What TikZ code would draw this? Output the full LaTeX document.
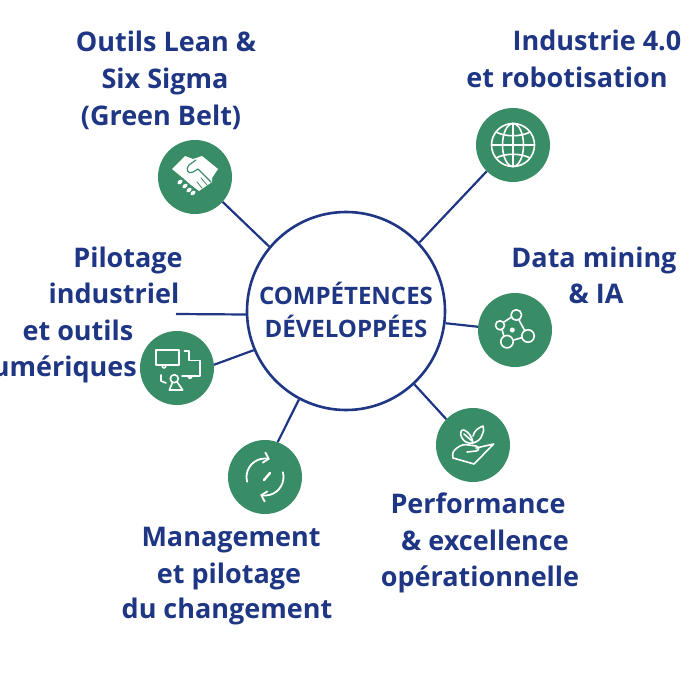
\documentclass[tikz,border=0pt]{standalone}
\usepackage{fontspec}
\usepackage{xcolor}
\usetikzlibrary{arrows.meta}
\newfontfamily\labelfont{Open Sans}
\definecolor{navy}{HTML}{1E3683}
\definecolor{leaf}{HTML}{388D66}
\tikzset{
  hubnode/.style={circle, draw=navy, line width=2.6pt, fill=white, minimum size=198pt, inner sep=0pt},
  iconnode/.style={circle, fill=leaf, minimum size=74pt, inner sep=0pt},
  link/.style={draw=navy, line width=2.2pt},
  lbl/.style={anchor=base, inner sep=0pt, text=navy, font=\labelfont\bfseries\fontsize{27}{32}\selectfont},
  hublbl/.style={lbl, font=\labelfont\bfseries\fontsize{24}{28}\selectfont},
  glyph/.style={draw=white, line width=1.6pt, line cap=round, line join=round},
  cut/.style={draw=leaf, line width=1.2pt, line cap=round, line join=round}
}
\begin{document}
\begin{tikzpicture}[x=1pt, y=-1pt]
  \useasboundingbox (0,0) rectangle (690,690);
  \fill[white] (0,0) rectangle (690,690);
  % circles
  \node[hubnode](hub) at (346,311){};
  \node[iconnode](lean) at (195,177){};
  \node[iconnode](robot) at (513,145){};
  \node[iconnode](data) at (515,330){};
  \node[iconnode](perf) at (473,445){};
  \node[iconnode](change) at (265,477){};
  \node[iconnode](pilot) at (177,368){};
  \coordinate(pilotend) at (176,314);
  % links
  \draw[link] (hub.140) -- (lean.-42);
  \draw[link] (hub.43) -- (robot.-135);
  \draw[link] (hub.-7) -- (data.175);
  \draw[link] (hub.-47) -- (perf.136);
  \draw[link] (hub.-118) -- (change.70);
  \draw[link] (hub.-157) -- (pilot.5);
  \draw[link] (hub.182) -- (pilotend);
  % texts
  \node[hublbl](hubA) at (346,304){COMPÉTENCES};
  \node[hublbl](hubB) at (346,337){DÉVELOPPÉES};
  \node[lbl](leanA) at (166,52){Outils Lean \&};
  \node[lbl](leanB) at (165,89){Six Sigma};
  \node[lbl](leanC) at (161,125){(Green Belt)};
  \node[lbl](robotA) at (597,51){Industrie 4.0};
  \node[lbl](robotB) at (567,88){et robotisation};
  \node[lbl](dataA) at (594,267){Data mining};
  \node[lbl](dataB) at (596,303){\& IA};
  \node[lbl](pilotA) at (128,267){Pilotage};
  \node[lbl](pilotB) at (114,303){industriel};
  \node[lbl](pilotC) at (78,340){et outils};
  \node[lbl, anchor=base east](pilotD) at (137,376){numériques};
  \node[lbl](changeA) at (231,546){Management};
  \node[lbl](changeB) at (229,583){et pilotage};
  \node[lbl](changeC) at (227,618){du changement};
  \node[lbl](perfA) at (478,513){Performance};
  \node[lbl](perfB) at (485,550){\& excellence};
  \node[lbl](perfC) at (480,586){opérationnelle};
  % handshake
  \begin{scope}[shift={(lean.center)}]
    \fill[white] (-23,-8) -- (-10,-21) -- (-2,-18) -- (7,-21) -- (23,-8) -- (17,1) -- (17,5) -- (4,14) -- (-4,8) -- (-12,1) -- cycle;
    \draw[cut] (1,-17) -- (-6,-12) .. controls (-10,-8) and (-7,-2) .. (-2,-5) -- (3,-8) -- (16,5);
    \draw[cut, line width=0.8pt] (6,1) -- (12,8);
    \draw[cut, line width=0.8pt] (2,5) -- (7,11);
    \foreach \dotx/\doty in {-15/5, -10/9, -6/13, -2/16}
      \draw[white, line width=3.6pt, line cap=round] (\dotx-1,\doty+0.8) -- (\dotx+1,\doty-0.8);
  \end{scope}
  % globe
  \begin{scope}[shift={(robot.center)}, glyph]
    \draw (0,0) circle (21.5);
    \draw (0,0) ellipse (10.5 and 21.5);
    \draw (0,-21.5) -- (0,21.5);
    \draw (-21.5,0) -- (21.5,0);
    \draw (-17,-13) .. controls (-8,-8) and (8,-8) .. (17,-13);
    \draw (-17,13) .. controls (-8,8) and (8,8) .. (17,13);
  \end{scope}
  % network
  \begin{scope}[shift={(data.center)}, glyph]
    \draw (1.3,-15) circle (5.3);
    \draw (-15,-4.7) circle (4.5);
    \draw (-8,11.7) circle (6.2);
    \draw (13,6) circle (6.2);
    \draw (-3.5,-13) -- (-11,-8);
    \draw (3.8,-10.3) -- (9.8,0.8);
    \draw (-2,10.3) -- (7,7.5);
    \draw (-13,-0.3) -- (-11,6.2);
    \fill[white] (-2.7,0) circle (2.5);
  \end{scope}
  % plant on a hand
  \begin{scope}[shift={(perf.center)}, glyph]
    \draw (-20,13) .. controls (-21,8) and (-20,6) .. (-16,3) .. controls (-12,0) and (-9,-1) .. (-4,0) -- (3,1) .. controls (6,2) and (7,5) .. (3,6) -- (-6,7);
    \draw (3,3) -- (20.7,-1) -- (1,19) -- (-20,13);
    \draw (0,-2) .. controls (-1,-8) and (-4,-13) .. (-9,-15) .. controls (-13,-16) and (-13,-10) .. (-11,-7) .. controls (-9,-3) and (-4,-1) .. (0,-2) -- cycle;
    \draw (-9,-11) -- (-1,-4);
    \draw (0,-2) .. controls (3,-3) and (8,-5) .. (9,-10) .. controls (11,-14) and (11,-17) .. (10,-19) .. controls (5,-17) and (1,-14) .. (0,-9);
  \end{scope}
  % change cycle
  \begin{scope}[shift={(change.center)}, glyph, line width=1.8pt]
    \draw[-{Straight Barb[length=5pt, width=11pt]}] (0,0) ++(165:18.5) arc[start angle=165, end angle=285, radius=18.5];
    \draw[-{Straight Barb[length=5pt, width=11pt]}] (0,0) ++(-15:18.5) arc[start angle=-15, end angle=105, radius=18.5];
    \draw[line width=2.4pt] (5,-4) -- (-1,3);
  \end{scope}
  % screens and person
  \begin{scope}[shift={(pilot.center)}, glyph]
    \draw (-21,-18) rectangle (2,-3);
    \draw (-15,-3) .. controls (-15,1) and (-11,1) .. (-11,-3);
    \draw (7.5,-17) -- (12,-17) -- (12,-7.5) -- (23,-7.5) -- (23,8) -- (5,8);
    \draw (11,8) .. controls (11,11) and (15,11) .. (15,8);
    \draw (-2.7,10.7) circle (4);
    \draw (-4.5,14.5) -- (-7.7,22) -- (5.7,22) -- (0.5,14.5);
    \draw (-16,7) -- (-16,13) -- (-11,15);
  \end{scope}
\end{tikzpicture}
\end{document}
